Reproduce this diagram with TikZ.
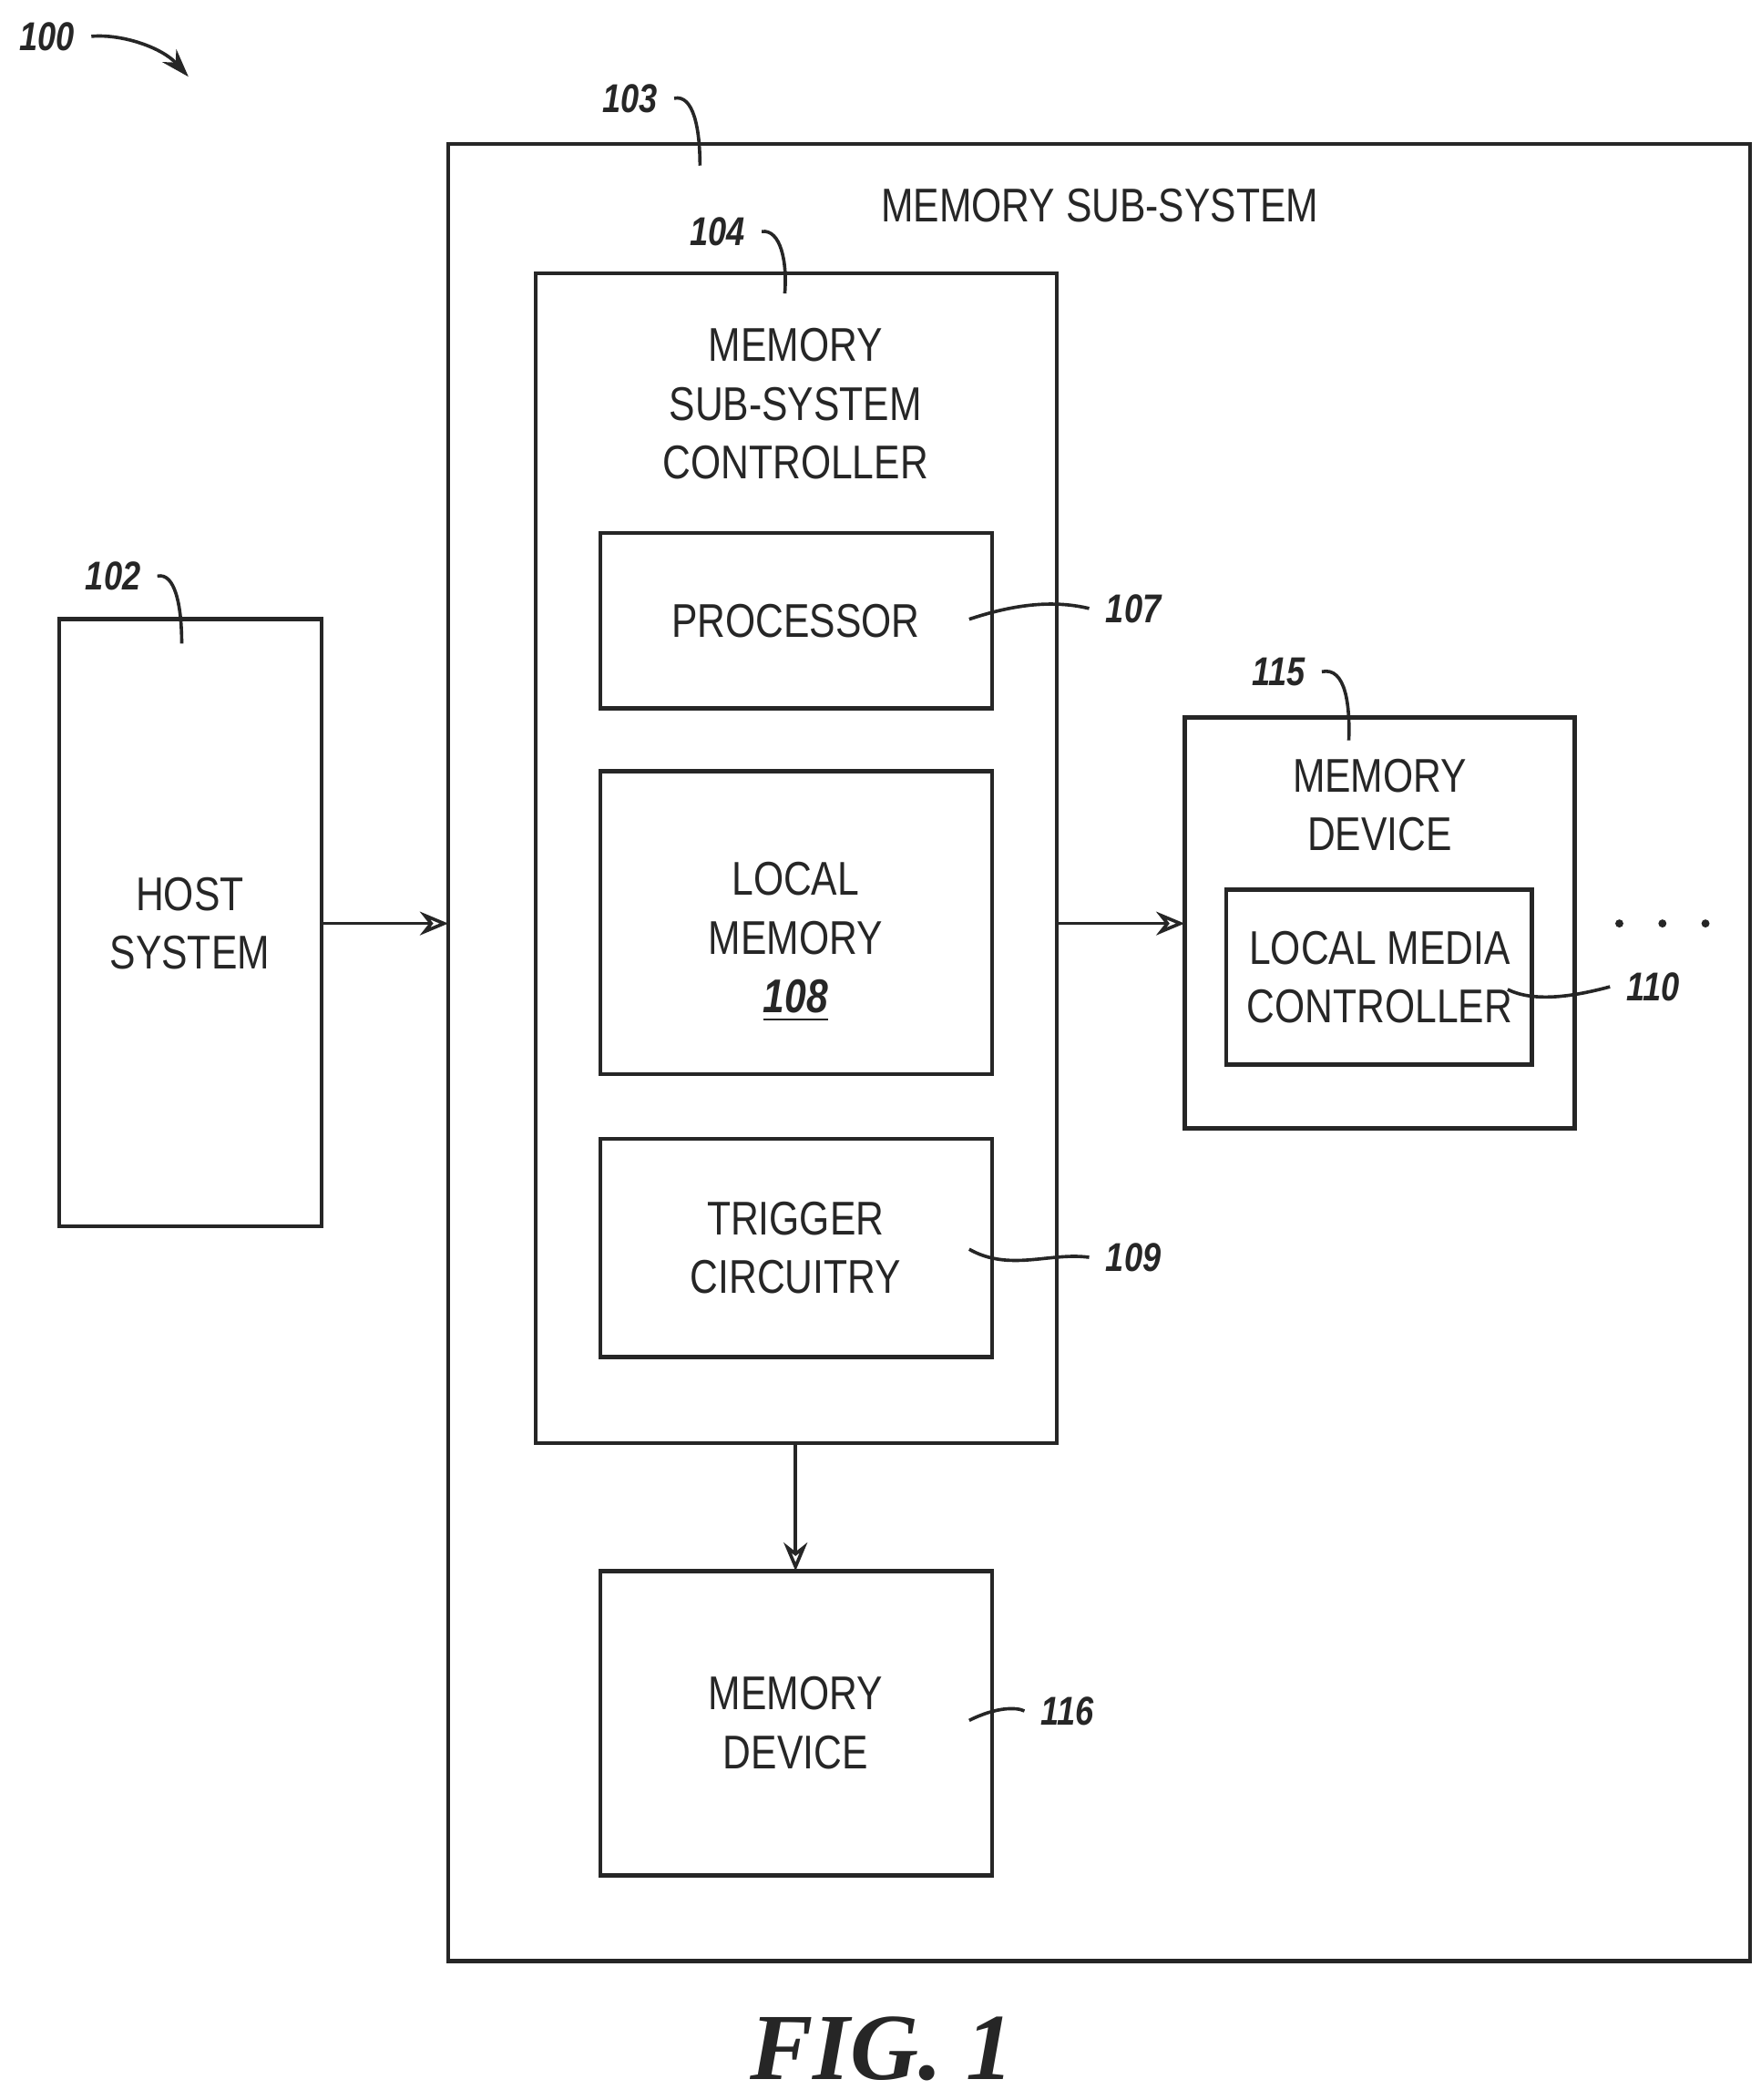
\documentclass[tikz,border=0pt]{standalone}
\usepackage{fontspec}
\setmainfont{Liberation Sans}
\newfontfamily\narrowfont{Liberation Sans}[FakeStretch=0.82]
\newfontfamily\figfont{Liberation Serif}
\usetikzlibrary{arrows.meta}
\begin{document}
\begin{tikzpicture}[x=0.01cm,y=-0.01cm,
  box/.style={draw=black!85,line width=0.9pt},
  txt/.style={font=\narrowfont\fontsize{10}{12.4}\selectfont,align=center,text=black!85},
  lab/.style={font=\narrowfont\fontsize{8.5}{10}\selectfont\bfseries\itshape,text=black!85},
  lead/.style={draw=black!85,line width=0.7pt},
  arr/.style={draw=black!85,line width=0.7pt,-{Stealth[open,length=6pt,width=5pt]}}]
\useasboundingbox (0,0) rectangle (1308,1560);
\draw[box] (333,107) rectangle (1300,1457);
\node[txt] (mss) at (817,153) {MEMORY SUB-SYSTEM};
\draw[box] (398,203) rectangle (785,1072);
\node[txt] (mssc) at (591,300) {MEMORY\\SUB-SYSTEM\\CONTROLLER};
\draw[box] (446,396) rectangle (737,526); \node[txt] (proc) at (591,461) {PROCESSOR};
\draw[box] (446,573) rectangle (737,798); \node[txt] (lm) at (591,700) {LOCAL\\MEMORY\\\underline{\textbf{\textit{108}}}};
\draw[box] (446,846) rectangle (737,1008); \node[txt] (trig) at (591,927) {TRIGGER\\CIRCUITRY};
\draw[box] (446,1167) rectangle (737,1393); \node[txt] (md116) at (591,1280) {MEMORY\\DEVICE};
\draw[box] (44,460) rectangle (239,911); \node[txt] (host) at (141,686) {HOST\\SYSTEM};
\draw[box] (880,533) rectangle (1170,838); \node[txt] (md115) at (1025,598) {MEMORY\\DEVICE};
\draw[box] (911,661) rectangle (1138,791); \node[txt] (lmc) at (1025,726) {LOCAL MEDIA\\CONTROLLER};
\coordinate (h1) at (239,686); \coordinate (h2) at (333,686);
\coordinate (c1) at (785,686); \coordinate (c2) at (880,686);
\coordinate (d1) at (591,1072); \coordinate (d2) at (591,1167);
\draw[arr] (h1) -- (h2); \draw[arr] (c1) -- (c2); \draw[arr] (d1) -- (d2);
\foreach \x in {1203,1235,1267} \fill[black!85] (\x,686) circle (3);
\node[lab] (l100) at (35,27) {100};
\node[lab] (l103) at (468,73) {103};
\node[lab] (l104) at (533,172) {104};
\node[lab] (l102) at (84,428) {102};
\node[lab] (l107) at (842,452) {107};
\node[lab] (l115) at (950,499) {115};
\node[lab] (l110) at (1228,733) {110};
\node[lab] (l109) at (842,934) {109};
\node[lab] (l116) at (793,1271) {116};
\coordinate (t100) at (140,57);
\draw[lead,-{Stealth[length=6pt,width=4pt]}] (l100.east) .. controls (90,25) and (120,35) .. (t100);
\draw[lead] (l103.east) .. controls (515,70) and (520,95) .. (520,123);
\draw[lead] (l104.east) .. controls (580,170) and (585,195) .. (583,218);
\draw[lead] (l102.east) .. controls (130,425) and (135,450) .. (135,478);
\draw[lead] (l115.east) .. controls (1000,495) and (1003,525) .. (1002,550);
\draw[lead] (l107.west) .. controls (780,445) and (750,450) .. (720,460);
\draw[lead] (l110.west) .. controls (1170,740) and (1140,745) .. (1120,735);
\draw[lead] (l109.west) .. controls (780,930) and (750,945) .. (720,928);
\draw[lead] (l116.west) .. controls (755,1268) and (740,1268) .. (720,1278);
\node[font=\figfont\fontsize{20}{22}\selectfont\bfseries\itshape,text=black!85] (fig) at (655,1522) {FIG. 1};
\end{tikzpicture}
\end{document}
